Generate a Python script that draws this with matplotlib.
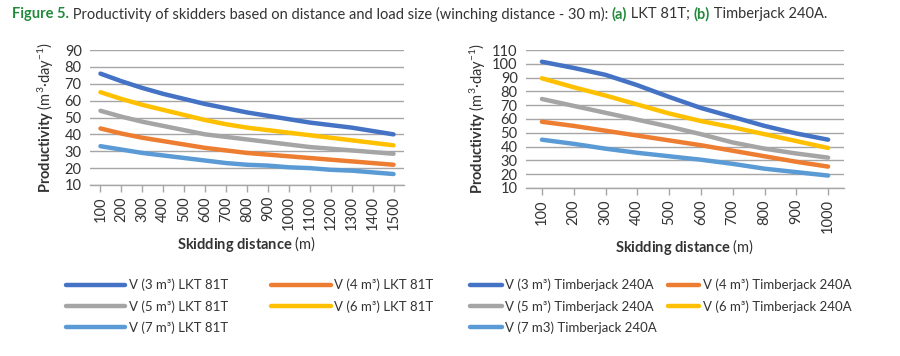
import matplotlib
matplotlib.use("Agg")
import matplotlib.pyplot as plt

plt.rcParams['font.family'] = ['Lato', 'DejaVu Sans']
plt.rcParams['mathtext.fontset'] = 'custom'
plt.rcParams['mathtext.rm'] = 'Lato'
plt.rcParams['mathtext.bf'] = 'Lato:bold'
plt.rcParams['mathtext.it'] = 'Lato:italic'

# ---- data ----
dist_a = [100, 200, 300, 400, 500, 600, 700, 800, 900, 1000, 1100, 1200, 1300, 1400, 1500]
lkt_v3 = [76, 71.5, 67.5, 64, 61, 58, 55.5, 53, 51, 49, 47, 45.5, 44, 42, 40]
lkt_v4 = [43.5, 40.5, 38, 36, 34, 32, 30.5, 29, 28, 27, 26, 25, 24, 23, 22]
lkt_v5 = [54, 50.5, 47.5, 45, 42.5, 40, 38.5, 37, 35.5, 34, 32.5, 31.5, 30.5, 29.5, 28.5]
lkt_v6 = [65, 61, 57.5, 54.5, 51.5, 48.5, 46, 44, 42.5, 41, 39.5, 38, 36.5, 35, 33.5]
lkt_v7 = [33, 31, 29, 27.5, 26, 24.5, 23, 22, 21.5, 20.5, 20, 19, 18.5, 17.5, 16.5]

dist_b = [100, 200, 300, 400, 500, 600, 700, 800, 900, 1000]
tj_v3 = [101.5, 97, 92, 84.5, 76, 68, 61.5, 55, 49.5, 45]
tj_v4 = [58, 55, 51.5, 48, 44.5, 41, 37, 33, 29, 25.5]
tj_v5 = [74.5, 69.5, 64.5, 59.5, 54.5, 49, 43, 38.5, 35, 32]
tj_v6 = [89.5, 83, 77, 70.5, 64, 58.5, 54, 49, 44, 39]
tj_v7 = [45, 42, 38.5, 35.5, 33, 30.5, 27.5, 24, 21.5, 19]

labels_a = ["V (3 m³) LKT 81T", "V (4 m³) LKT 81T", "V (5 m³) LKT 81T",
            "V (6 m³) LKT 81T", "V (7 m³) LKT 81T"]
labels_b = ["V (3 m³) Timberjack 240A", "V (4 m³) Timberjack 240A",
            "V (5 m³) Timberjack 240A", "V (6 m³) Timberjack 240A",
            "V (7 m3) Timberjack 240A"]

colors = ['#4472C4', '#ED7D31', '#A5A5A5', '#FFC000', '#5B9BD5']
grid_c = '#A6A6A6'
text_c = '#333333'
green = '#218A3C'

W, H = 900, 356
fig = plt.figure(figsize=(9, 3.56), dpi=100)

def px_axes(x0, y0, x1, y1):
    return fig.add_axes([x0 / W, 1 - y1 / H, (x1 - x0) / W, (y1 - y0) / H])

ax1 = px_axes(90, 50, 404, 185)
ax2 = px_axes(526, 50, 844, 188)

def style(ax, xs, ylim, ystep, ylpad):
    ax.set_ylim(*ylim)
    ax.set_yticks(range(ylim[0], ylim[1] + 1, ystep))
    step = xs[1] - xs[0]
    ax.set_xlim(xs[0] - step / 2, xs[-1] + step / 2)
    ax.set_xticks(xs)
    ax.set_xticklabels([str(x) for x in xs], rotation=90)
    for s in ['top', 'right', 'left']:
        ax.spines[s].set_visible(False)
    ax.spines['bottom'].set_color(grid_c)
    ax.spines['bottom'].set_linewidth(1)
    ax.grid(axis='y', color=grid_c, linewidth=1)
    ax.set_axisbelow(True)
    ax.tick_params(axis='y', length=0, labelsize=10.5, labelcolor=text_c, pad=6)
    ax.tick_params(axis='x', length=5, color=grid_c, width=1, labelsize=10.5,
                   labelcolor=text_c, pad=3, direction='out')
    ax.set_xlabel(r"$\bf{Skidding\ distance}$ (m)", fontsize=10.5, color=text_c, labelpad=3)
    ax.set_ylabel(r"$\bf{Productivity}$ (m$^{3}$·day$^{-1}$)", fontsize=10.5,
                  color=text_c, labelpad=ylpad)

series_a = [lkt_v3, lkt_v4, lkt_v5, lkt_v6, lkt_v7]
series_b = [tj_v3, tj_v4, tj_v5, tj_v6, tj_v7]

h_a = []
for ys, c, lab in zip(series_a, colors, labels_a):
    h, = ax1.plot(dist_a, ys, color=c, lw=3.2, solid_capstyle='round', label=lab)
    h_a.append(h)
h_b = []
for ys, c, lab in zip(series_b, colors, labels_b):
    h, = ax2.plot(dist_b, ys, color=c, lw=3.2, solid_capstyle='round', label=lab)
    h_b.append(h)

style(ax1, dist_a, (10, 90), 10, 6)
style(ax2, dist_b, (10, 110), 10, 3)

# legend fills column-wise; reorder so rows read (3,4), (5,6), (7)
order = [0, 2, 4, 1, 3]
leg1 = fig.legend([h_a[i] for i in order], [labels_a[i] for i in order], ncol=2,
                  loc='upper left', bbox_to_anchor=(54 / W, 1 - 267 / H), frameon=False,
                  fontsize=9.5, handlelength=4.5, handletextpad=0.25,
                  columnspacing=3.3, labelspacing=0.65, labelcolor=text_c)
leg2 = fig.legend([h_b[i] for i in order], [labels_b[i] for i in order], ncol=2,
                  loc='upper left', bbox_to_anchor=(458 / W, 1 - 267 / H), frameon=False,
                  fontsize=9.5, handlelength=2.4, handletextpad=0.3,
                  columnspacing=0.8, labelspacing=0.65, labelcolor=text_c)

# ---- title (multi-colour) ----
pieces = [("Figure 5.", green, 'bold'),
          (" Productivity of skidders based on distance and load size (winching distance - 30 m): ", text_c, 'normal'),
          ("(a)", green, 'bold'),
          (" LKT 81T; ", text_c, 'normal'),
          ("(b)", green, 'bold'),
          (" Timberjack 240A.", text_c, 'normal')]
fig.canvas.draw()
renderer = fig.canvas.get_renderer()
x = 12
for s, c, w in pieces:
    t = fig.text(x / W, 1 - 14 / H, s, color=c, fontweight=w, fontsize=10.5,
                 va='center', ha='left')
    bb = t.get_window_extent(renderer=renderer)
    x = x + bb.width

fig.savefig("out.png", dpi=100)
